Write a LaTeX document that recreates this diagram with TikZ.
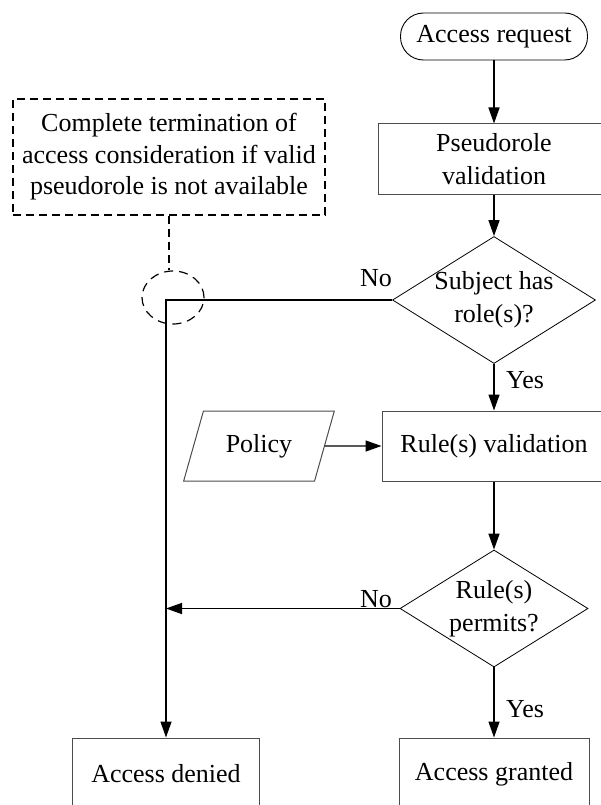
\documentclass[tikz,border=0pt]{standalone}
\usepackage{fontspec}
\setmainfont{Liberation Serif}
\usetikzlibrary{arrows.meta,shapes.geometric}

\begin{document}
\begin{tikzpicture}[x=1pt,y=-1pt,
  every node/.style={font=\fontsize{26}{33}\selectfont},
  box/.style={draw=black!70, line width=1pt, minimum height=70pt, inner sep=0pt, align=center},
  terminal/.style={draw, line width=0.9pt, rounded corners=23pt, minimum width=187pt, minimum height=47pt, inner sep=0pt},
  decision/.style={draw, diamond, line width=0.8pt, inner sep=0pt},
  data/.style={draw=black!70, trapezium, trapezium left angle=63.43, trapezium right angle=116.57,
    trapezium stretches=true, line width=1pt, minimum width=152pt, minimum height=70pt, inner sep=0pt},
  note/.style={draw, dash pattern=on 8pt off 5pt, line width=1.2pt, minimum width=312pt,
    minimum height=116pt, align=center, inner sep=0pt, font=\fontsize{26}{31.5}\selectfont},
  flow/.style={line width=1.4pt, -{Triangle[length=16pt,width=11pt]}},
  lbl/.style={inner sep=0pt}
]
\useasboundingbox (0,0) rectangle (601,805);
\clip (0,0) rectangle (601,805);

% main column
\node[terminal] (ar) at (494,36.5) {Access request};
\node[box, minimum width=232pt] (pv) at (494,159) {Pseudorole\\validation};
\node[decision, minimum width=203pt, minimum height=127pt,
  label={[name=d1t, align=center, inner sep=0pt]center:Subject has\\role(s)?}] (d1) at (494,300) {};
\node[box, minimum width=224pt] (rv) at (494,446) {Rule(s) validation};
\node[decision, minimum width=188pt, minimum height=117pt,
  label={[name=d2t, align=center, inner sep=0pt]center:Rule(s)\\permits?}] (d2) at (494,608.5) {};
\node[box, minimum width=190pt, minimum height=72pt] (ag) at (494,774) {Access granted};

% side elements
\node[data] (pol) at (259,446) {Policy};
\node[box, minimum width=187pt, minimum height=72pt] (ad) at (166,774) {Access denied};
\node[note] (db) at (169,157) {Complete termination of\\access consideration if valid\\pseudorole is not available};
\node[draw, ellipse, dash pattern=on 9pt off 6pt, line width=1.2pt, minimum width=62pt,
  minimum height=53pt, inner sep=0pt] (de) at (173,297.5) {};

% connectors
\draw[flow] (ar) -- (pv);
\draw[flow] (pv) -- (d1);
\draw[flow] (d1) -- (rv);
\draw[flow] (pol) -- (rv);
\draw[flow] (rv) -- (d2);
\draw[flow] (d2) -- (ag);
\draw[flow] (d1.west) -- (ad.north |- d1.west) -- (ad.north);
\draw[flow] (d2.west) -- (ad.north |- d2.west);
\draw[dash pattern=on 8pt off 5pt, line width=1.2pt] (db.south) -- (db.south |- de.north);

% branch labels
\node[lbl, anchor=base east] (no1) at (392,286) {No};
\node[lbl, anchor=base west] (yes1) at (506,388) {Yes};
\node[lbl, anchor=base east] (no2) at (392,607) {No};
\node[lbl, anchor=base west] (yes2) at (506,717) {Yes};
\end{tikzpicture}
\end{document}
